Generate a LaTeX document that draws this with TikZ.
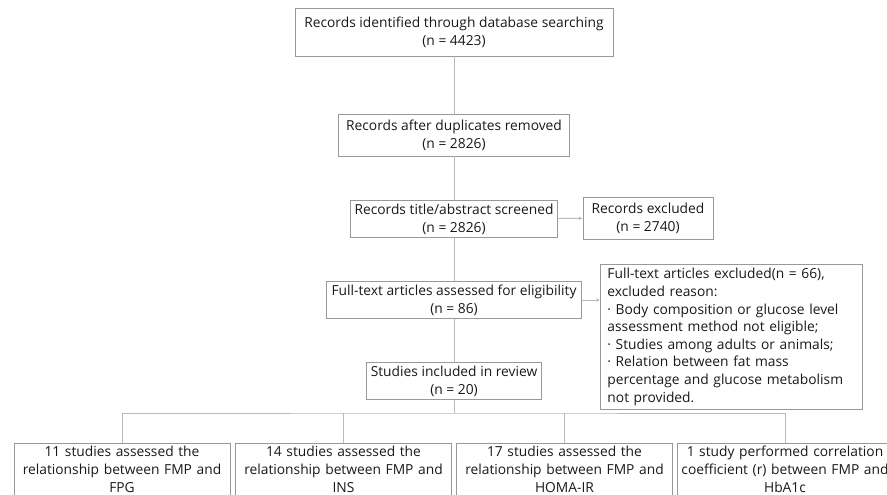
\documentclass[tikz,border=0pt]{standalone}
\usepackage{fontspec}
\setmainfont{Open Sans}
\usetikzlibrary{arrows.meta}
\begin{document}
\begin{tikzpicture}[x=1pt,y=-1pt,
  box/.style={draw=gray!80,line width=0.9pt,text=black!90,align=center,inner sep=2pt,font=\fontsize{13.8}{18}\selectfont},
  study/.style={box,anchor=north,text width=212pt,inner xsep=2pt,inner ysep=1pt,minimum height=52pt},
  link/.style={draw=gray!55,line width=0.9pt},
  arr/.style={link,-{Stealth[length=4pt,width=3.5pt]}}]
\clip (0,0) rectangle (887,495);
\node[box,minimum width=318pt,minimum height=48pt] (ident) at (454,32) {Records identified through database searching\\(n = 4423)};
\node[box,minimum width=231pt,minimum height=42pt] (dup) at (454,135) {Records after duplicates removed\\(n = 2826)};
\node[box,minimum width=207pt,minimum height=37pt] (screen) at (454,219) {Records title/abstract screened\\(n = 2826)};
\node[box,minimum width=130pt,minimum height=42pt] (excl) at (648,218) {Records excluded\\(n = 2740)};
\node[box,minimum width=255pt,minimum height=37pt] (full) at (454,300) {Full-text articles assessed for eligibility\\(n = 86)};
\node[box,anchor=north west,align=left,text width=248pt,inner xsep=7pt,minimum height=145pt,font=\fontsize{13.8}{17.6}\selectfont] (fullexcl) at (600,264) {Full-text articles excluded(n = 66),\\excluded reason:\\· Body composition or glucose level\\assessment method not eligible;\\· Studies among adults or animals;\\· Relation between fat mass\\percentage and glucose metabolism\\not provided.};
\node[box,minimum width=175pt,minimum height=37pt] (incl) at (454,381) {Studies included in review\\(n = 20)};
\coordinate (split) at (454,413);
\node[study] (fpg) at (122,443) {11 studies assessed the\\relationship between FMP and\\FPG};
\node[study] (ins) at (343.5,443) {14 studies assessed the\\relationship between FMP and\\INS};
\node[study] (homa) at (564.5,443) {17 studies assessed the\\relationship between FMP and\\HOMA-IR};
\node[study] (hba) at (785,443) {1 study performed correlation\\coefficient (r) between FMP and\\HbA1c};
\draw[link] (ident) -- (dup);
\draw[link] (dup) -- (screen);
\draw[link] (screen) -- (full);
\draw[link] (full) -- (incl);
\draw[arr] (screen) -- (excl);
\draw[arr] (full.east) -- (full.east -| fullexcl.west);
\draw[link] (incl) -- (split);
\draw[link] (fpg.north) |- (split) -| (hba.north);
\draw[link] (ins.north) -- (ins.north |- split);
\draw[link] (homa.north) -- (homa.north |- split);
\end{tikzpicture}
\end{document}
